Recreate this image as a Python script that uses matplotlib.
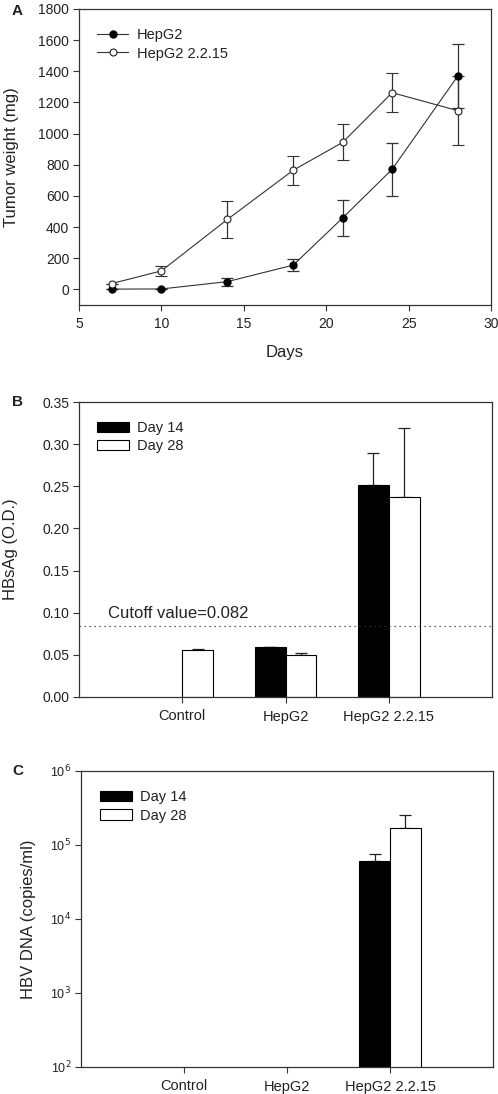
import numpy as np
import matplotlib
matplotlib.use('Agg')
import matplotlib.pyplot as plt

plt.rcParams['font.family'] = ['Liberation Sans', 'DejaVu Sans']
plt.rcParams['font.size'] = 10
plt.rcParams['text.color'] = '#222222'
plt.rcParams['axes.edgecolor'] = '#333333'
plt.rcParams['axes.labelcolor'] = '#222222'
plt.rcParams['xtick.color'] = '#333333'
plt.rcParams['ytick.color'] = '#333333'
plt.rcParams['xtick.labelcolor'] = '#222222'
plt.rcParams['ytick.labelcolor'] = '#222222'

# Panel A: tumor growth
days = [7, 10, 14, 18, 21, 24, 28]
hepg2_wt = [2, 3, 50, 156, 459, 771, 1372]
hepg2_err = [0, 0, 25, 40, 115, 172, 205]
hep215_wt = [38, 119, 449, 765, 944, 1263, 1147]
hep215_err = [0, 32, 120, 92, 115, 124, 222]

# Panel B: HBsAg
groups = ['Control', 'HepG2', 'HepG2 2.2.15']
hbsag_d14 = [np.nan, 0.0593, 0.251]
hbsag_d14_err = [0, 0, 0.039]
hbsag_d28 = [0.0554, 0.0503, 0.2373]
hbsag_d28_err = [0.002, 0.002, 0.082]
cutoff = 0.084

# Panel C: HBV DNA
dna_d14 = [np.nan, np.nan, 6.0e4]
dna_d14_err = [0, 0, 1.55e4]
dna_d28 = [np.nan, np.nan, 1.68e5]
dna_d28_err = [0, 0, 0.86e5]

W, H = 498, 1094
fig = plt.figure(figsize=(W / 100, H / 100), dpi=100)


def px_axes(left, top, right, bottom):
    return fig.add_axes([left / W, 1 - bottom / H, (right - left) / W, (bottom - top) / H])


def style(ax):
    for s in ax.spines.values():
        s.set_linewidth(0.9)
    ax.tick_params(direction='out', length=4, width=0.8, pad=3, labelsize=10)
    ax.tick_params(axis='x', pad=5)


# ---- A ----
axA = px_axes(79, 9, 491, 305)
style(axA)
l1 = axA.errorbar(days, hepg2_wt, yerr=hepg2_err, color='#333333', lw=0.8, marker='o',
                  ms=5, mfc='black', mec='black', capsize=4, elinewidth=0.9, capthick=0.9,
                  zorder=3)
l2 = axA.errorbar(days, hep215_wt, yerr=hep215_err, color='#333333', lw=0.8, marker='o',
                  ms=5, mfc='white', mec='#222222', mew=0.8, capsize=4, elinewidth=0.9,
                  capthick=0.9, zorder=3)
axA.set_xlim(5, 30)
axA.set_ylim(-100, 1800)
axA.set_xticks([5, 10, 15, 20, 25, 30])
axA.set_yticks(np.arange(0, 1801, 200))
axA.set_xlabel('Days', fontsize=12)
axA.xaxis.set_label_coords(0.5, -0.135)
axA.set_ylabel('Tumor weight (mg)', fontsize=12)
axA.yaxis.set_label_coords(-0.145, 0.5)
axA.legend([l1.lines[0], l2.lines[0]], ['HepG2', 'HepG2 2.2.15'], loc='upper left',
           bbox_to_anchor=(0.03, 0.955), frameon=False, fontsize=10.5,
           handlelength=2.1, handletextpad=0.6, labelspacing=0.3, borderaxespad=0)
fig.text(12 / W, 1 - 11 / H, 'A', fontweight='bold', fontsize=11, va='center')

# ---- B ----
x = np.arange(1, len(groups) + 1)
bw = 0.3
axB = px_axes(79, 402, 492, 697)
style(axB)
axB.bar(x - bw / 2, hbsag_d14, bw, color='black', edgecolor='black', lw=0.8,
        label='Day 14', zorder=2)
axB.bar(x + bw / 2, hbsag_d28, bw, color='white', edgecolor='black', lw=0.8,
        label='Day 28', zorder=2)
axB.errorbar(x - bw / 2, hbsag_d14, yerr=[np.zeros(3), hbsag_d14_err], fmt='none',
             ecolor='#222222', elinewidth=0.9, capsize=4, capthick=0.9, zorder=1)
axB.errorbar(x + bw / 2, hbsag_d28, yerr=[np.zeros(3), hbsag_d28_err], fmt='none',
             ecolor='#222222', elinewidth=0.9, capsize=4, capthick=0.9, zorder=1)
axB.axhline(cutoff, color='#333333', ls=(0, (1, 3)), lw=0.9, zorder=3)
axB.text(0.28, 0.094, 'Cutoff value=0.082', fontsize=12)
axB.set_xlim(0, 4)
axB.set_ylim(0, 0.35)
axB.set_xticks(x)
axB.set_xticklabels(groups, fontsize=10.5)
axB.set_yticks(np.arange(0, 0.351, 0.05))
axB.set_yticklabels([f'{v:.2f}' for v in np.arange(0, 0.351, 0.05)])
axB.set_ylabel('HBsAg (O.D.)', fontsize=12)
axB.yaxis.set_label_coords(-0.148, 0.5)
axB.legend(loc='upper left', bbox_to_anchor=(0.03, 0.955), frameon=False, fontsize=10.5,
           handlelength=2.2, handleheight=0.7, handletextpad=0.55, labelspacing=0.3,
           borderaxespad=0)
fig.text(12 / W, 1 - 402 / H, 'B', fontweight='bold', fontsize=11, va='center')

# ---- C ----
axC = px_axes(81, 771, 493, 1067)
style(axC)
axC.set_yscale('log')
axC.bar(x - bw / 2, dna_d14, bw, color='black', edgecolor='black', lw=0.8,
        label='Day 14', zorder=2)
axC.bar(x + bw / 2, dna_d28, bw, color='white', edgecolor='black', lw=0.8,
        label='Day 28', zorder=2)
axC.errorbar(x - bw / 2, dna_d14, yerr=[np.zeros(3), dna_d14_err], fmt='none',
             ecolor='#222222', elinewidth=0.9, capsize=4, capthick=0.9, zorder=1)
axC.errorbar(x + bw / 2, dna_d28, yerr=[np.zeros(3), dna_d28_err], fmt='none',
             ecolor='#222222', elinewidth=0.9, capsize=4, capthick=0.9, zorder=1)
axC.set_xlim(0, 4)
axC.set_ylim(1e2, 1e6)
axC.set_xticks(x)
axC.set_xticklabels(groups, fontsize=10.5)
axC.set_yticks([1e2, 1e3, 1e4, 1e5, 1e6])
axC.set_yticklabels([r'10$^{%d}$' % k for k in range(2, 7)], fontsize=9)
axC.yaxis.set_minor_locator(matplotlib.ticker.NullLocator())
axC.set_ylabel('HBV DNA (copies/ml)', fontsize=12)
axC.yaxis.set_label_coords(-0.11, 0.5)
axC.legend(loc='upper left', bbox_to_anchor=(0.032, 0.955), frameon=False, fontsize=10.5,
           handlelength=2.2, handleheight=0.7, handletextpad=0.55, labelspacing=0.3,
           borderaxespad=0)
fig.text(12 / W, 1 - 771 / H, 'C', fontweight='bold', fontsize=11, va='center')

fig.savefig('out.png', dpi=100)
